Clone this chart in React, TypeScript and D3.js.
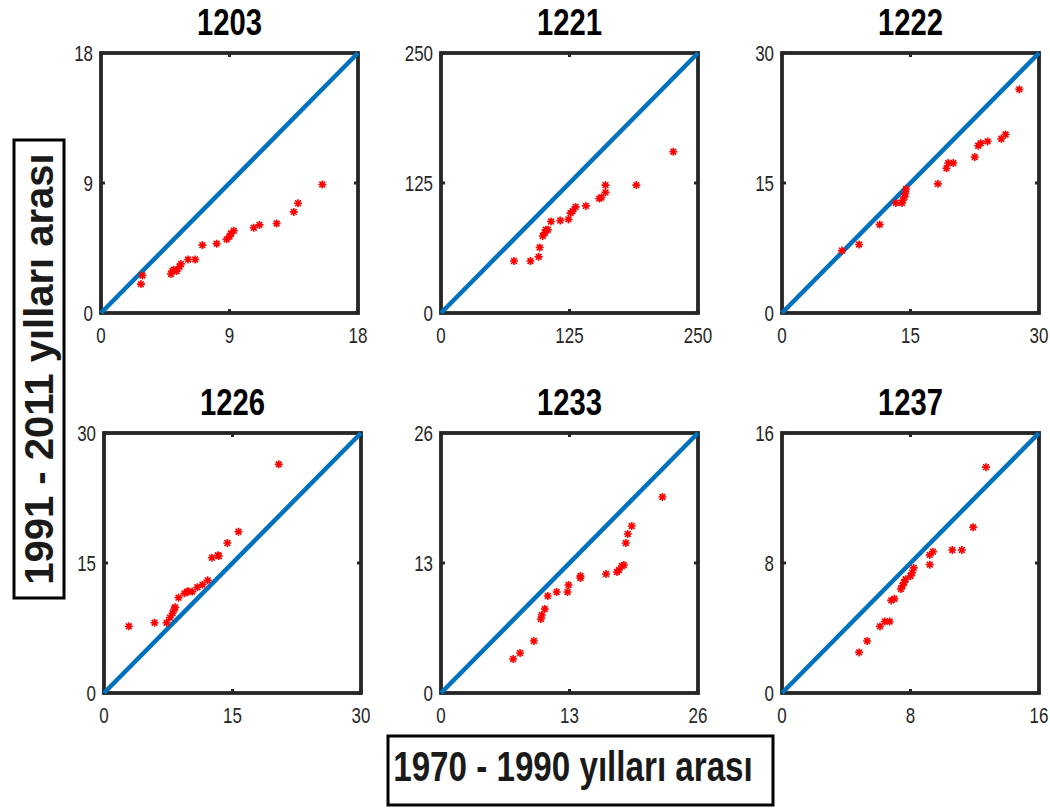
import * as d3 from "d3";

// Q-Q style comparisons: 1970-1990 (x) vs 1991-2011 (y)
const stations = ["1203", "1221", "1222", "1226", "1233", "1237"];
const axisMax = [18, 250, 30, 30, 26, 16];

const x1203 = [2.8, 2.9, 4.9, 5.0, 5.1, 5.3, 5.5, 5.6, 6.1, 6.6, 7.1, 8.1, 8.8, 9.0, 9.1, 9.3, 10.7, 11.1, 12.3, 13.5, 13.8, 15.5];
const y1203 = [2.0, 2.6, 2.7, 2.9, 3.0, 2.9, 3.2, 3.4, 3.7, 3.7, 4.7, 4.8, 5.1, 5.3, 5.5, 5.7, 5.9, 6.1, 6.2, 7.0, 7.6, 8.9];

const x1221 = [71, 87, 95, 96, 99, 101, 102, 104, 107, 116, 124, 126, 128, 131, 141, 154, 156, 160, 160, 190, 226];
const y1221 = [50, 50, 54, 63, 74, 77, 80, 80, 88, 89, 90, 96, 98, 102, 103, 110, 111, 116, 123, 123, 155];

const x1222 = [7.0, 9.0, 11.4, 13.3, 14.0, 14.1, 14.3, 14.4, 14.5, 18.2, 19.2, 19.4, 20.0, 22.5, 22.9, 23.2, 24.0, 25.6, 26.1, 27.7];
const y1222 = [7.2, 7.9, 10.2, 12.7, 12.7, 13.0, 13.4, 13.8, 14.3, 14.9, 16.7, 17.3, 17.3, 18.0, 19.3, 19.6, 19.8, 20.1, 20.6, 25.8];

const x1226 = [2.9, 5.9, 7.3, 7.7, 8.0, 8.2, 8.3, 8.7, 9.4, 9.7, 9.9, 10.3, 10.9, 11.5, 12.1, 12.6, 13.3, 13.4, 14.4, 15.7, 20.4];
const y1226 = [7.7, 8.1, 8.1, 8.7, 9.2, 9.7, 9.9, 11.0, 11.5, 11.7, 11.7, 11.7, 12.2, 12.5, 13.0, 15.6, 15.9, 15.8, 17.3, 18.6, 26.4];

const x1233 = [7.3, 8.0, 9.4, 10.1, 10.2, 10.5, 10.8, 11.7, 12.8, 12.9, 14.1, 14.1, 16.7, 17.8, 18.0, 18.3, 18.5, 18.7, 18.9, 19.3, 22.4];
const y1233 = [3.4, 4.0, 5.2, 7.4, 7.8, 8.4, 9.7, 10.1, 10.1, 10.8, 11.5, 11.7, 11.9, 12.1, 12.3, 12.7, 12.8, 15.0, 15.9, 16.7, 19.6];

const x1237 = [4.8, 5.3, 6.1, 6.4, 6.7, 6.8, 7.0, 7.4, 7.5, 7.6, 7.7, 8.0, 8.1, 8.2, 9.2, 9.2, 9.4, 10.6, 11.2, 11.9, 12.7];
const y1237 = [2.5, 3.2, 4.1, 4.4, 4.4, 5.7, 5.8, 6.4, 6.6, 6.8, 7.0, 7.2, 7.4, 7.7, 7.9, 8.5, 8.7, 8.8, 8.8, 10.2, 13.9];

const xSeries = [x1203, x1221, x1222, x1226, x1233, x1237];
const ySeries = [y1203, y1221, y1222, y1226, y1233, y1237];

const yLabel = "1991 - 2011 yılları arası";
const xLabel = "1970 - 1990 yılları arası";

const FONT = "'Liberation Sans', Arial, sans-serif";
const AXIS = "#262626";
const BLUE = "#0072BD";

const W = 257;
const H = 260;
const origins = [
  [101, 53], [441, 53], [782, 53],
  [104, 433], [441, 433], [782, 433],
];

const star = (r: number) => {
  const a = r * 0.72;
  return `M${-r},0H${r}M0,${-r}V${r}M${-a},${-a}L${a},${a}M${-a},${a}L${a},${-a}`;
};

function Panel({ i }: { i: number }) {
  const [ox, oy] = origins[i];
  const max = axisMax[i];
  const x = d3.scaleLinear().domain([0, max]).range([0, W]);
  const y = d3.scaleLinear().domain([0, max]).range([H, 0]);
  const ticks = [0, max / 2, max];
  const xs = xSeries[i];
  const ys = ySeries[i];
  const line = d3.line<number>().x((d) => x(d)).y((d) => y(d));

  return (
    <g transform={`translate(${ox},${oy})`}>
      <text
        transform={`translate(${W / 2},-18) scale(0.79,1)`}
        textAnchor="middle"
        fontFamily={FONT}
        fontWeight="bold"
        fontSize={37}
        fill="#000"
      >
        {stations[i]}
      </text>
      <rect x={0} y={0} width={W} height={H} fill="#fff" stroke={AXIS} strokeWidth={3.8} />
      {ticks.map((t) => (
        <g key={"t" + t} stroke={AXIS} strokeWidth={3}>
          <line x1={x(t)} x2={x(t)} y1={H} y2={H - 4} />
          <line x1={x(t)} x2={x(t)} y1={0} y2={4} />
          <line x1={0} x2={4} y1={y(t)} y2={y(t)} />
          <line x1={W} x2={W - 4} y1={y(t)} y2={y(t)} />
        </g>
      ))}
      {ticks.map((t) => (
        <text
          key={"xl" + t}
          transform={`translate(${x(t)},${H + 30}) scale(0.77,1)`}
          textAnchor="middle"
          fontFamily={FONT}
          fontSize={22}
          fill={AXIS}
        >
          {t}
        </text>
      ))}
      {ticks.map((t) => (
        <text
          key={"yl" + t}
          transform={`translate(-8,${y(t) + 8}) scale(0.77,1)`}
          textAnchor="end"
          fontFamily={FONT}
          fontSize={22}
          fill={AXIS}
        >
          {t}
        </text>
      ))}
      <path d={line([0, max]) || ""} stroke={BLUE} strokeWidth={4.5} fill="none" />
      <g stroke="#FF0000" strokeWidth={1.6} fill="none">
        {xs.map((v, k) => (
          <path key={k} transform={`translate(${x(v)},${y(ys[k])})`} d={star(4)} />
        ))}
      </g>
    </g>
  );
}

export default function App() {
  return (
    <svg
      width={1050}
      height={810}
      style={{ position: "absolute", left: 0, top: 0, background: "#fff" }}
    >
      <rect x={0} y={0} width={1050} height={810} fill="#fff" />
      {stations.map((_, i) => (
        <Panel key={i} i={i} />
      ))}
      <rect x={14} y={140} width={50} height={458} fill="#fff" stroke="#000" strokeWidth={3} />
      <text
        transform={`translate(53,369) rotate(-90)`}
        textAnchor="middle"
        fontFamily={FONT}
        fontWeight="bold"
        fontSize={40}
        fill="#1a1a1a"
      >
        {yLabel}
      </text>
      <rect x={388} y={736} width={385} height={69} fill="#fff" stroke="#000" strokeWidth={3} />
      <text
        transform={`translate(573,781) scale(0.79,1)`}
        textAnchor="middle"
        fontFamily={FONT}
        fontWeight="bold"
        fontSize={42}
        fill="#1a1a1a"
      >
        {xLabel}
      </text>
    </svg>
  );
}
